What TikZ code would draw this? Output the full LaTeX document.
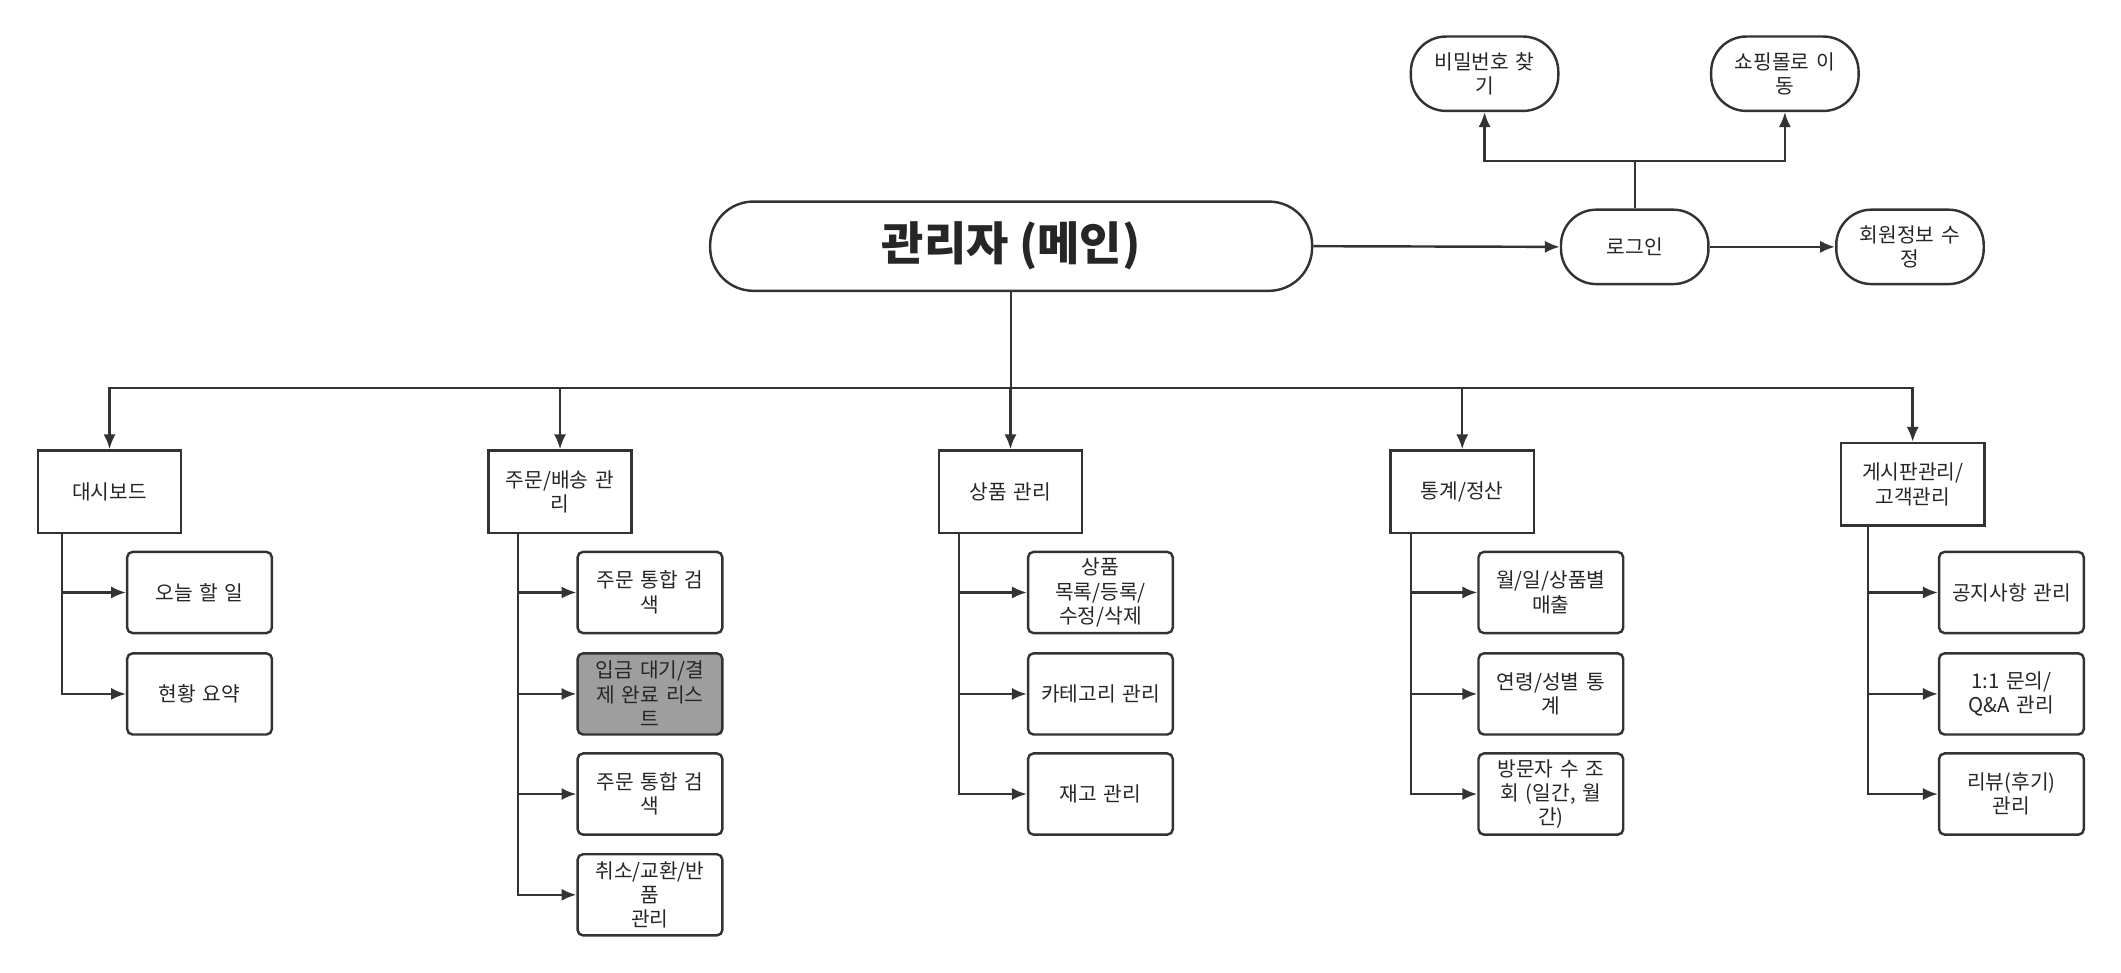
\documentclass[tikz,border=0pt]{standalone}
\usepackage{fontspec}
\setmainfont{Noto Sans CJK KR}
\usetikzlibrary{arrows.meta}
\begin{document}
\begin{tikzpicture}[x=0.5pt,y=-0.5pt,
  every node/.style={font=\fontsize{7.5pt}{9pt}\selectfont,align=center,text=black!85},
  ln/.style={draw=black!80,line width=0.9pt},
  arr/.style={ln,-{Latex[length=5.5pt,width=4.5pt]}},
  main/.style={ln,rounded corners=16pt,minimum width=222.5pt,minimum height=33pt,font=\fontsize{17pt}{20pt}\bfseries\selectfont},
  pill/.style={ln,rounded corners=13pt,minimum width=54.5pt,minimum height=27.5pt,inner sep=1pt,text width=50pt},
  lvl/.style={ln,minimum width=53pt,minimum height=30.5pt,inner sep=1pt,text width=50pt},
  ch/.style={ln,rounded corners=2pt,minimum width=53.5pt,minimum height=30pt,inner sep=1pt,text width=50pt}]
\useasboundingbox (0,0) rectangle (1568,719);
\node[main] (m) at (747.5,182) {관리자 (메인)};
\node[pill] (login) at (1208.5,182.5) {로그인};
\node[pill] (mod) at (1412,182.5) {회원정보 수\\정};
\node[pill] (pw) at (1097.5,54.5) {비밀번호 찾\\기};
\node[pill] (shop) at (1319.5,54.5) {쇼핑몰로 이\\동};
\draw[arr] (m.east) -- (login.west);
\draw[arr] (login.east) -- (mod.west);
\coordinate (lj) at (1208.5,119);
\draw[ln] (login.north) -- (lj);
\draw[arr] (lj) -| (pw.south);
\draw[arr] (lj) -| (shop.south);
% level 1
\node[lvl] (a) at (81,363.5) {대시보드};
\node[lvl] (b) at (414,363.5) {주문/배송 관\\리};
\node[lvl] (c) at (747,363.5) {상품 관리};
\node[lvl] (d) at (1081,363.5) {통계/정산};
\node[lvl] (e) at (1414,358) {게시판관리/\\고객관리};
\coordinate (mj) at (747.5,287);
\draw[ln] (m.south) -- (mj);
\foreach \n in {a,b,c,d,e} \draw[arr] (mj) -| (\n.north);
% children
\node[ch] (a1) at (147.5,438) {오늘 할 일};
\node[ch] (a2) at (147.5,513) {현황 요약};
\node[ch] (b1) at (480.5,438) {주문 통합 검\\색};
\node[ch,fill=black!38] (b2) at (480.5,513) {입금 대기/결\\제 완료 리스\\트};
\node[ch] (b3) at (480.5,587) {주문 통합 검\\색};
\node[ch] (b4) at (480.5,661.5) {취소/교환/반\\품\\관리};
\node[ch] (c1) at (813.5,438) {상품\\목록/등록/\\수정/삭제};
\node[ch] (c2) at (813.5,513) {카테고리 관리};
\node[ch] (c3) at (813.5,587) {재고 관리};
\node[ch] (d1) at (1146.5,438) {월/일/상품별\\매출};
\node[ch] (d2) at (1146.5,513) {연령/성별 통\\계};
\node[ch] (d3) at (1146.5,587) {방문자 수 조\\회 (일간, 월\\간)};
\node[ch] (e1) at (1487,438) {공지사항 관리};
\node[ch] (e2) at (1487,513) {1:1 문의/\\Q\&A 관리};
\node[ch] (e3) at (1487,587) {리뷰(후기)\\관리};
\coordinate (ta) at (46,0); \coordinate (tb) at (383,0);
\coordinate (tc) at (709,0); \coordinate (td) at (1043,0); \coordinate (te) at (1381,0);
\foreach \p/\t/\k in {a/ta/a1,a/ta/a2,b/tb/b1,b/tb/b2,b/tb/b3,b/tb/b4,c/tc/c1,c/tc/c2,c/tc/c3,d/td/d1,d/td/d2,d/td/d3,e/te/e1,e/te/e2,e/te/e3}
  \draw[arr] (\p.south -| \t) |- (\k.west);
\end{tikzpicture}
\end{document}
